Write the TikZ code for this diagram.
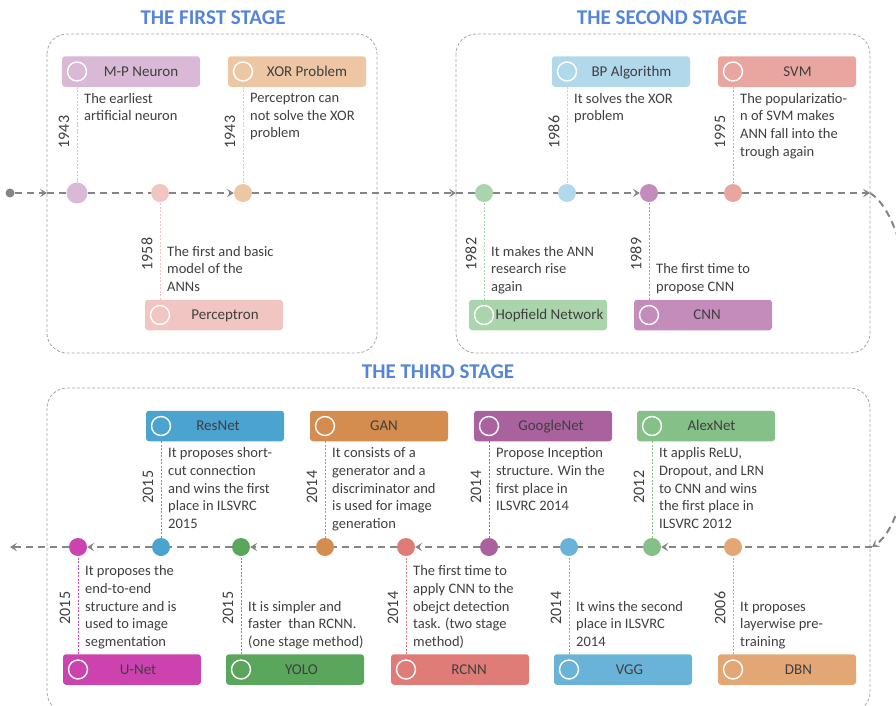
\documentclass[tikz,border=0pt]{standalone}
\usepackage{fontspec}
\setmainfont{Carlito}
\usetikzlibrary{arrows.meta}

\definecolor{txt}{HTML}{3F3F3F}
\definecolor{tgray}{HTML}{858585}
\definecolor{sgray}{HTML}{A6A6A6}
\definecolor{ttl}{HTML}{5485D8}
\definecolor{mpc}{HTML}{D9B9D5}
\definecolor{xorc}{HTML}{EDC7A4}
\definecolor{percc}{HTML}{F1C5C1}
\definecolor{bpc}{HTML}{B2D8EC}
\definecolor{svmc}{HTML}{E9A6A1}
\definecolor{hopc}{HTML}{AAD4AB}
\definecolor{cnnc}{HTML}{C48CBA}
\definecolor{resc}{HTML}{4BA3CF}
\definecolor{ganc}{HTML}{D58C4F}
\definecolor{googc}{HTML}{AA629E}
\definecolor{alexc}{HTML}{86C089}
\definecolor{unetc}{HTML}{CC43B0}
\definecolor{yoloc}{HTML}{5BA65D}
\definecolor{rcnnc}{HTML}{E07C78}
\definecolor{vggc}{HTML}{6AB3D8}
\definecolor{dbnc}{HTML}{E3A775}

\newcommand\desctext{\fontsize{14.5}{17.7}\selectfont}

\tikzset{
	tline/.style={tgray, line width=2pt, dash pattern=on 7pt off 5pt,
		>={Stealth[length=7pt,width=8.5pt,inset=3pt]}},
	stagebox/.style={sgray, line width=0.8pt, dash pattern=on 3pt off 2pt, rounded corners=20pt},
	stagetitle/.style={ttl, font=\fontsize{21}{25}\selectfont\bfseries},
	dot/.style={circle, fill=#1, minimum size=18pt, inner sep=0pt},
	tag/.style={fill=#1, rounded corners=3pt, minimum width=138pt, minimum height=30.5pt, inner sep=0pt},
	tagtext/.style={txt, font=\fontsize{15}{18}\selectfont, text height=9.7pt, text depth=0pt},
	ring/.style={circle, draw=white, line width=1.4pt, minimum size=19pt, inner sep=0pt},
	stem/.style={#1, line width=0.8pt, dash pattern=on 2pt off 1.5pt},
	desc/.style={txt, font=\desctext, align=left, inner sep=0pt,
		execute at begin node=\strut, execute at end node=\strut},
	year/.style={txt, font=\fontsize{16}{19}\selectfont, rotate=90, inner sep=0pt},
}

\begin{document}
\begin{tikzpicture}[x=1pt,y=-1pt]
	
	\useasboundingbox (0,0) rectangle (896,705);
	\clip (0,0) rectangle (896,705);
	
	% Stage frames and titles
	\draw[stagebox] (47,34) rectangle (377,353);
	\draw[stagebox] (456,34) rectangle (870,353);
	\draw[stagebox] (47,388) rectangle (870,712);
	\node[stagetitle] (t1) at (213,18) {THE FIRST STAGE};
	\node[stagetitle] (t2) at (662,18) {THE SECOND STAGE};
	\node[stagetitle] (t3) at (438,372) {THE THIRD STAGE};
	
	% Timeline ends
	\node[circle, fill=tgray, minimum size=9pt, inner sep=0pt] (st) at (10,193) {};
	\coordinate (in1) at (47,193);
	\coordinate (in2) at (456,193);
	\coordinate (out2) at (870,193);
	\coordinate (in3) at (872,547);
	\coordinate (out3) at (10,547);
	
	% M-P Neuron
	\node[dot=mpc, minimum size=21pt] (mp) at (77,193) {};
	\node[tag=mpc, label={[tagtext,xshift=10pt]center:M-P Neuron}] (mpb) at (131,71.5) {};
	\node[ring] (mpr) at (77,71.5) {};
	\node[desc, anchor=north west] (mpd) at (84,93) {The earliest\\artificial neuron};
	\node[year] (mpy) at (64,132) {1943};
	
	% Perceptron
	\node[dot=percc] (perc) at (160,193) {};
	\node[tag=percc, label={[tagtext,xshift=11pt]center:Perceptron}] (percb) at (214,315) {};
	\node[ring] (percr) at (160,315) {};
	\node[desc, anchor=south west] (percd) at (167,297) {The first and basic\\model of the\\ANNs};
	\node[year] (percy) at (147,254) {1958};
	
	% XOR Problem
	\node[dot=xorc] (xor) at (243,193) {};
	\node[tag=xorc, label={[tagtext,xshift=10pt]center:XOR Problem}] (xorb) at (297,71.5) {};
	\node[ring] (xorr) at (243,71.5) {};
	\node[desc, anchor=north west] (xord) at (250,93) {Perceptron can\\not solve the XOR\\problem};
	\node[year] (xory) at (230,132) {1943};
	
	% Hopfield Network
	\node[dot=hopc] (hop) at (484,193) {};
	\node[tag=hopc, label={[tagtext,xshift=11.5pt]center:Hopfield Network}] (hopb) at (538,315) {};
	\node[ring] (hopr) at (484,315) {};
	\node[desc, anchor=south west] (hopd) at (491,297) {It makes the ANN\\research rise\\again};
	\node[year] (hopy) at (471,254) {1982};
	
	% BP Algorithm
	\node[dot=bpc] (bp) at (567,193) {};
	\node[tag=bpc, label={[tagtext,xshift=10.5pt]center:BP Algorithm}] (bpb) at (621,71.5) {};
	\node[ring] (bpr) at (567,71.5) {};
	\node[desc, anchor=north west] (bpd) at (574,93) {It solves the XOR\\problem};
	\node[year] (bpy) at (554,132) {1986};
	
	% CNN
	\node[dot=cnnc] (cnn) at (649,193) {};
	\node[tag=cnnc, label={[tagtext,xshift=4pt]center:CNN}] (cnnb) at (703,315) {};
	\node[ring] (cnnr) at (649,315) {};
	\node[desc, anchor=south west] (cnnd) at (656,297) {The first time to\\propose CNN};
	\node[year] (cnny) at (636,254) {1989};
	
	% SVM
	\node[dot=svmc] (svm) at (733,193) {};
	\node[tag=svmc, label={[tagtext,xshift=10.5pt]center:SVM}] (svmb) at (787,71.5) {};
	\node[ring] (svmr) at (733,71.5) {};
	\node[desc, anchor=north west] (svmd) at (740,93) {The popularizatio-\\n of SVM makes\\ANN fall into the\\trough again};
	\node[year] (svmy) at (720,132) {1995};
	
	% U-Net
	\node[dot=unetc] (unet) at (78,547) {};
	\node[tag=unetc, label={[tagtext,xshift=6pt]center:U-Net}] (unetb) at (132,669.5) {};
	\node[ring] (unetr) at (78,669.5) {};
	\node[desc, anchor=south west] (unetd) at (85,652) {It proposes the\\end-to-end\\structure and is\\used to image\\segmentation};
	\node[year] (unety) at (65,608) {2015};
	
	% ResNet
	\node[dot=resc] (res) at (161,547) {};
	\node[tag=resc, label={[tagtext,xshift=3pt]center:ResNet}] (resb) at (215,426) {};
	\node[ring] (resr) at (161,426) {};
	\node[desc, anchor=north west] (resd) at (168,447.5) {It proposes short-\\cut connection\\and wins the first\\place in ILSVRC\\2015};
	\node[year] (resy) at (148,487) {2015};
	
	% YOLO
	\node[dot=yoloc] (yolo) at (241,547) {};
	\node[tag=yoloc, label={[tagtext,xshift=6.5pt]center:YOLO}] (yolob) at (295,669.5) {};
	\node[ring] (yolor) at (241,669.5) {};
	\node[desc, anchor=south west] (yolod) at (248,652) {It is simpler and\\faster\ \ than RCNN.\\(one stage method)};
	\node[year] (yoloy) at (228,608) {2015};
	
	% GAN
	\node[dot=ganc] (gan) at (325,547) {};
	\node[tag=ganc, label={[tagtext,xshift=5pt]center:GAN}] (ganb) at (379,426) {};
	\node[ring] (ganr) at (325,426) {};
	\node[desc, anchor=north west] (gand) at (332,447.5) {It consists of a\\generator and a\\discriminator and\\is used for image\\generation};
	\node[year] (gany) at (312,487) {2014};
	
	% RCNN
	\node[dot=rcnnc] (rcnn) at (406,547) {};
	\node[tag=rcnnc, label={[tagtext,xshift=9pt]center:RCNN}] (rcnnb) at (460,669.5) {};
	\node[ring] (rcnnr) at (406,669.5) {};
	\node[desc, anchor=south west] (rcnnd) at (413,652) {The first time to\\apply CNN to the\\obejct detection\\task. (two stage\\method)};
	\node[year] (rcnny) at (393,608) {2014};
	
	% GoogleNet
	\node[dot=googc] (goog) at (489,547) {};
	\node[tag=googc, label={[tagtext,xshift=8pt]center:GoogleNet}] (googb) at (543,426) {};
	\node[ring] (googr) at (489,426) {};
	\node[desc, anchor=north west] (googd) at (496,447.5) {Propose Inception\\structure. Win the\\first place in\\ILSVRC 2014};
	\node[year] (googy) at (476,487) {2014};
	
	% VGG
	\node[dot=vggc] (vgg) at (569,547) {};
	\node[tag=vggc, label={[tagtext,xshift=6.5pt]center:VGG}] (vggb) at (623,669.5) {};
	\node[ring] (vggr) at (569,669.5) {};
	\node[desc, anchor=south west] (vggd) at (576,652) {It wins the second\\place in ILSVRC\\2014};
	\node[year] (vggy) at (556,608) {2014};
	
	% AlexNet
	\node[dot=alexc] (alex) at (652,547) {};
	\node[tag=alexc, label={[tagtext,xshift=5.5pt]center:AlexNet}] (alexb) at (706,426) {};
	\node[ring] (alexr) at (652,426) {};
	\node[desc, anchor=north west] (alexd) at (659,447.5) {It applis ReLU,\\Dropout, and LRN\\to CNN and wins\\the first place in\\ILSVRC 2012};
	\node[year] (alexy) at (639,487) {2012};
	
	% DBN
	\node[dot=dbnc] (dbn) at (733,547) {};
	\node[tag=dbnc, label={[tagtext,xshift=11.5pt]center:DBN}] (dbnb) at (787,669.5) {};
	\node[ring] (dbnr) at (733,669.5) {};
	\node[desc, anchor=south west] (dbnd) at (740,652) {It proposes\\layerwise pre-\\training};
	\node[year] (dbny) at (720,608) {2006};
	
	% Stems
	\draw[stem=mpc] (mpb.south -| mp) -- (mp);
	\draw[stem=percc] (percb.north -| perc) -- (perc);
	\draw[stem=xorc] (xorb.south -| xor) -- (xor);
	\draw[stem=hopc] (hopb.north -| hop) -- (hop);
	\draw[stem=bpc] (bpb.south -| bp) -- (bp);
	\draw[stem=cnnc] (cnnb.north -| cnn) -- (cnn);
	\draw[stem=svmc] (svmb.south -| svm) -- (svm);
	\draw[stem=unetc] (unetb.north -| unet) -- (unet);
	\draw[stem=resc] (resb.south -| res) -- (res);
	\draw[stem=yoloc] (yolob.north -| yolo) -- (yolo);
	\draw[stem=ganc] (ganb.south -| gan) -- (gan);
	\draw[stem=rcnnc] (rcnnb.north -| rcnn) -- (rcnn);
	\draw[stem=googc] (googb.south -| goog) -- (goog);
	\draw[stem=vggc] (vggb.north -| vgg) -- (vgg);
	\draw[stem=alexc] (alexb.south -| alex) -- (alex);
	\draw[stem=dbnc] (dbnb.north -| dbn) -- (dbn);
	
	% Upper timeline
	\draw[tline,->] (st) -- (in1);
	\draw[tline] (in1) -- (mp) -- (perc);
	\draw[tline,->] (perc) -- (xor);
	\draw[tline,->] (xor) -- (in2);
	\draw[tline] (in2) -- (hop) -- (bp);
	\draw[tline,->] (bp) -- (cnn);
	\draw[tline] (cnn) -- (svm);
	\draw[tline,->] (svm) -- (out2);
	
	% Turn
	\draw[tline,->] (out2) .. controls (930,230) and (930,510) .. (in3);
	
	% Lower timeline
	\draw[tline] (in3) -- (dbn);
	\draw[tline,->] (dbn) -- (alex);
	\draw[tline] (alex) -- (vgg) -- (goog);
	\draw[tline,->] (goog) -- (rcnn);
	\draw[tline] (rcnn) -- (gan);
	\draw[tline,->] (gan) -- (yolo);
	\draw[tline] (yolo) -- (res);
	\draw[tline,->] (res) -- (unet);
	\draw[tline,->] (unet) -- (out3);
	
\end{tikzpicture}
\end{document}
